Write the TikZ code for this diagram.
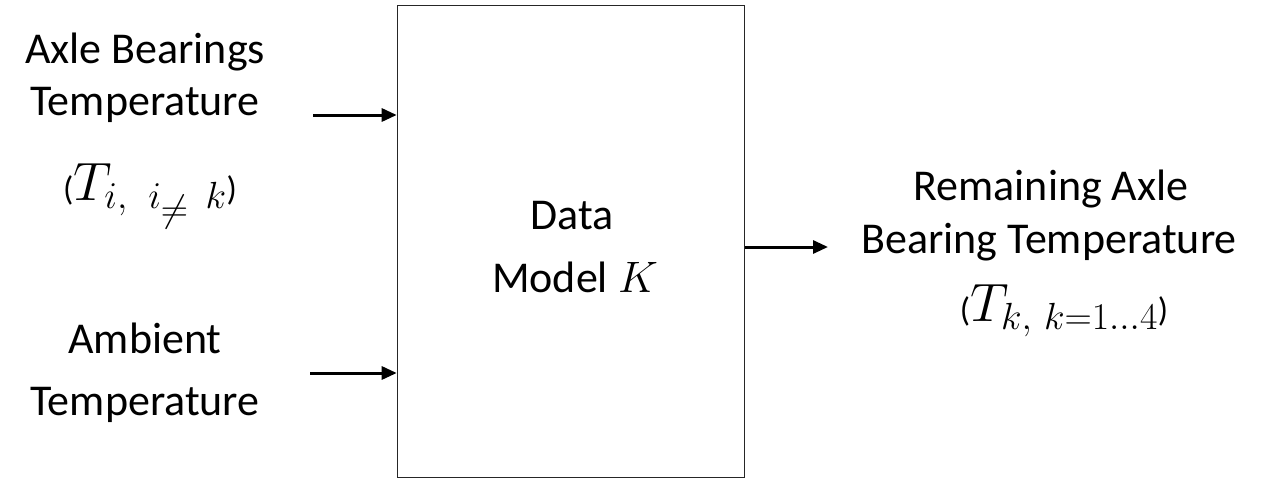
\RequirePackage{fix-cm}
\documentclass[tikz,border=0pt]{standalone}
\usepackage{fontspec}
\setmainfont{Carlito}
\usetikzlibrary{arrows.meta}
\tikzset{
  lbl/.style={anchor=base, inner sep=0pt, font=\fontsize{44}{52}\selectfont},
  mathlbl/.style={anchor=base, inner sep=0pt, font=\fontsize{54}{60}\selectfont},
  blk/.style={draw=black!85, line width=1.6pt, minimum width=347pt, minimum height=472pt, inner sep=0pt},
  flow/.style={line width=3pt, -{Triangle[length=15pt,width=13pt]}}
}
\newcommand{\smallparen}[1]{{\fontsize{34}{34}\selectfont #1}}
\begin{document}
\begin{tikzpicture}[x=1pt,y=-1pt]
\useasboundingbox (0,0) rectangle (1279,479);
% central block
\node[blk] (model) at (571,241.5) {};
\node[lbl] (dataA) at (572,229) {Data};
\node[lbl] (dataB) at (575,292) {Model $K$};
% left inputs
\node[lbl] (axA) at (145,63) {Axle Bearings};
\node[lbl] (axB) at (145,115) {Temperature};
\node[mathlbl] (axC) at (150,200) {\smallparen{(}$T_{i,\;\; i_{\scriptstyle\neq}\;\, k}$\smallparen{)}};
\node[lbl] (amA) at (145,353) {Ambient};
\node[lbl] (amB) at (145,415) {Temperature};
% right output
\node[lbl] (outA) at (1051,200) {Remaining Axle};
\node[lbl] (outB) at (1049,253) {Bearing Temperature};
\node[mathlbl] (outC) at (1064,321) {\smallparen{(}$T_{k,\ k=1\ldots 4}$\smallparen{)}};
% connectors
\coordinate (s1) at (313,115);
\coordinate (s2) at (310,373);
\coordinate (e3) at (828,247);
\draw[flow] (s1) -- (s1 -| model.west);
\draw[flow] (s2) -- (s2 -| model.west);
\draw[flow] (e3 -| model.east) -- (e3);
\end{tikzpicture}
\end{document}
